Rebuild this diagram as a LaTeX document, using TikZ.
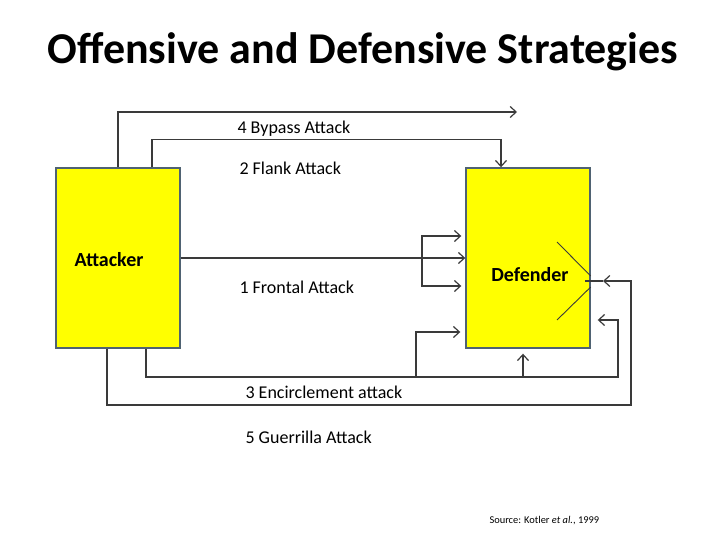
\documentclass[tikz,border=0pt]{standalone}
\usepackage{fontspec}
\setmainfont{Carlito}
\usepackage{tikz}
\usetikzlibrary{arrows.meta, positioning}
\usepackage{xcolor}
\definecolor{boxedge}{HTML}{4F6272}
\definecolor{lineclr}{HTML}{3A3A3A}
\definecolor{boxfill}{HTML}{FFFF00}

\begin{document}
\begin{tikzpicture}[
  x=1pt, y=-1pt,
  party/.style={
    rectangle, draw=boxedge, line width=1.4pt,
    minimum width=124pt, minimum height=180pt,
    fill=boxfill, inner sep=0pt
  },
  lbl/.style={anchor=west, font=\fontsize{18}{21}\selectfont},
  arr/.style={-{Straight Barb[length=6pt,width=11pt]}, draw=lineclr, line width=1.2pt},
  plain/.style={draw=lineclr, line width=1.2pt}
]
\useasboundingbox (0,0) rectangle (720,540);

\node[font=\fontsize{44}{48}\bfseries\selectfont] (title) at (363,52) {Offensive and Defensive Strategies};

\node[party] (att) at (118,258) {};
\node[party] (def) at (528,258) {};
\node[font=\fontsize{20}{22}\bfseries\selectfont] (attlbl) at (109,260) {Attacker};
\node[font=\fontsize{20}{22}\bfseries\selectfont] (deflbl) at (530,275) {Defender};

\node[lbl] (bypass) at (234,129) {4 Bypass Attack};
\node[lbl] (flank) at (236,168) {2 Flank Attack};
\node[lbl] (frontal) at (236,287) {1 Frontal Attack};
\node[lbl] (encircle) at (242,392) {3 Encirclement attack};
\node[lbl] (guerrilla) at (242,437) {5 Guerrilla Attack};

\node[anchor=west, font=\fontsize{10.4}{12}\selectfont] (source) at (486,521) {Source: Kotler \textit{et al.}, 1999};

\coordinate (bypassend) at (517,112);
\coordinate (fork) at (422,258);
\coordinate (enc) at (618,377);
\coordinate (enc1) at (416,377);
\coordinate (enc2) at (523,377);
\coordinate (guer) at (631,405);
\coordinate (gtip) at (603,281);

% 4 bypass
\draw[arr] (att.north) |- (bypassend);
% 2 flank
\draw[arr] ([xshift=34pt]att.north) -- ++(0,-28) -| ([xshift=-27pt]def.north);
% 1 frontal
\draw[arr] (att.east) -- (def.west);
\draw[arr] (fork) |- ([xshift=-4pt,yshift=22pt]def.west);
\draw[arr] (fork) |- ([xshift=-4pt,yshift=-28pt]def.west);
% 3 encirclement
\draw[arr] ([xshift=28pt]att.south) |- (enc) |- ([xshift=7pt,yshift=-62pt]def.east);
\draw[arr] (enc1) |- ([xshift=-5pt,yshift=-74pt]def.west);
\draw[arr] (enc2) -- ([xshift=-5pt,yshift=-5pt]def.south);
% 5 guerrilla
\draw[arr] ([xshift=-11pt]att.south) |- (guer) |- (gtip);
\draw[plain] (gtip) -- ++(-18,0);

\draw[plain, line width=0.9pt] (557,242) -- (def.east |- 0,276);
\draw[plain, line width=0.9pt] (def.east |- 0,287) -- (557,320);

\end{tikzpicture}
\end{document}
